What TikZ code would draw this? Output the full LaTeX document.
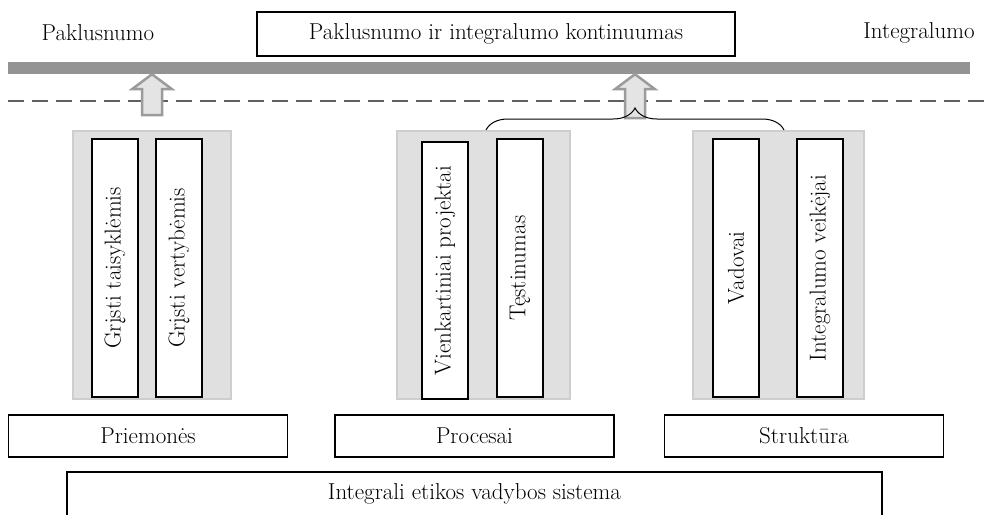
\documentclass[tikz,border=0pt]{standalone}
\usepackage{tikz}
\usetikzlibrary{shapes,arrows,positioning,decorations.pathreplacing}
\definecolor{bargray}{RGB}{147,147,147}
\definecolor{panelgray}{RGB}{224,224,224}
\definecolor{paneledge}{RGB}{206,206,206}
\definecolor{arrowgray}{RGB}{155,155,155}
\definecolor{arrowfill}{RGB}{228,228,228}
\definecolor{dashgray}{RGB}{96,96,96}
\tikzstyle{tbox} = [rectangle, draw, fill=white, line width=1.5pt, inner sep=0pt]
\tikzstyle{panel} = [rectangle, fill=panelgray, draw=paneledge, line width=1.5pt, minimum height=268pt]
\tikzstyle{pillar} = [tbox, rotate=90, minimum width=258pt, minimum height=46pt]
\tikzstyle{base} = [tbox, minimum width=279pt, minimum height=42pt]
\tikzstyle{blockarrow} = [draw=arrowgray, fill=arrowfill, line width=2.5pt, line join=miter]
\tikzstyle{line} = [draw]

\begin{document}
\begin{tikzpicture}[x=1pt, y=-1pt, every node/.style={font=\fontsize{23}{27}\selectfont}]
			\useasboundingbox (0,0) rectangle (984,514);
			
			% continuum
			\node (obey) at (98,33) {Paklusnumo};
			\node [tbox, minimum width=478pt, minimum height=44pt] (kont) at (496,34) {Paklusnumo ir integralumo kontinuumas};
			\node (integ) at (919,33) {Integralumo};
			\node [rectangle, fill=bargray, inner sep=0pt, minimum width=962pt, minimum height=12pt] (bar) at (489,68) {};
			
			\coordinate (dl) at (8,101);
			\coordinate (dr) at (984,101);
			\path [line, dashgray, line width=1.5pt, dash pattern=on 16pt off 8pt] (dl) -- (dr);
			
			% panels
			\node [panel, minimum width=158pt] (pan1) at (152,265) {};
			\node [panel, minimum width=173pt] (pan2) at (483.5,265) {};
			\node [panel, minimum width=171pt] (pan3) at (778.5,265) {};
			
			\node [pillar] (p11) at (115,268) {Grįsti taisyklėmis};
			\node [pillar] (p12) at (179,268) {Grįsti vertybėmis};
			\node [pillar, minimum width=257pt] (p21) at (445,270.5) {Vienkartiniai projektai};
			\node [pillar] (p22) at (520,268) {Tęstinumas};
			\node [pillar] (p31) at (736,268) {Vadovai};
			\node [pillar] (p32) at (820,268) {Integralumo veikėjai};
			
			% arrows up to the bar
			\draw [blockarrow] (bar.south -| pan1) -- ++(20,15) -- ++(-10,0) -- ++(0,26) -- ++(-20,0) -- ++(0,-26) -- ++(-10,0) -- cycle;
			\draw [blockarrow] (bar.south -| 635,0) -- ++(20,15) -- ++(-10,0) -- ++(0,29) -- ++(-20,0) -- ++(0,-29) -- ++(-10,0) -- cycle;
			
			\coordinate (bl) at (486,130);
			\coordinate (br) at (784,130);
			\draw [line width=1pt, decorate, decoration={brace, amplitude=22pt}] (bl) -- (br);
			
			% system
			\node [base] (tools) at (148,436) {Priemonės};
			\node [base] (proc) at (474.5,436) {Procesai};
			\node [base] (struct) at (804,436) {Struktūra};
			\node [tbox, minimum width=815pt, minimum height=44pt] (sys) at (474.5,494) {Integrali etikos vadybos sistema};
		\end{tikzpicture}
\end{document}
